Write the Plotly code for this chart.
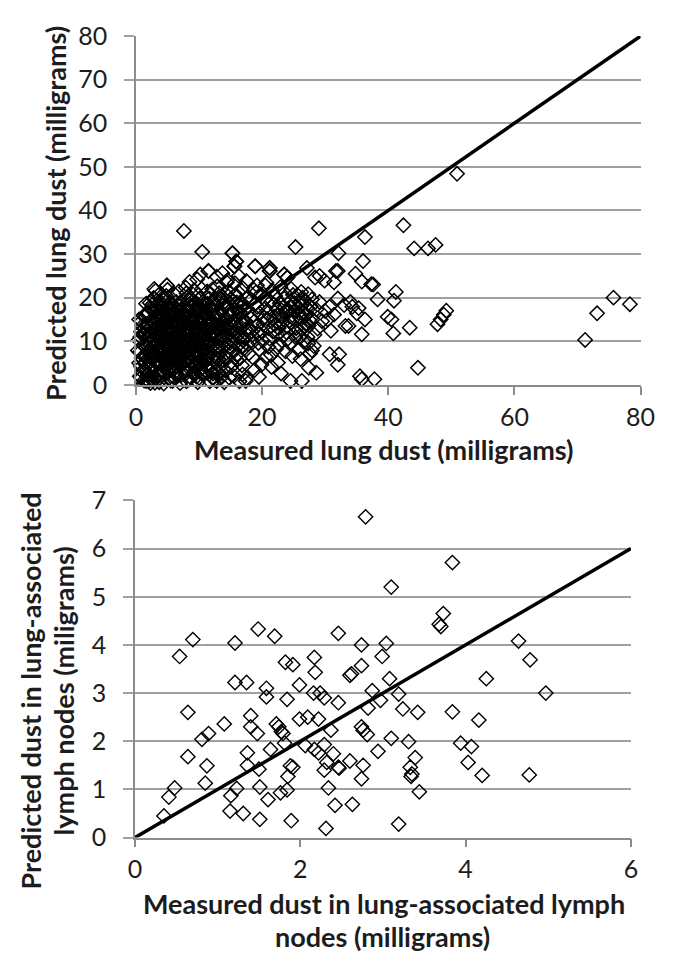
import plotly.graph_objects as go

# ---------------- Lung dust: measured vs predicted (mg) ----------------
# dense core of the cloud
lung_core_x = [1.0, 1.8, 2.5, 3.2, 3.0, 4.1, 4.8, 5.5, 5.9, 6.6, 7.3, 7.9, 8.6, 9.3, 9.8, 10.4, 11.1, 11.9, 12.5, 13.3,
               2.2, 3.7, 5.2, 6.9, 8.2, 10.0, 12.2, 1.4, 4.4, 8.0, 14.2, 15.5, 16.4, 17.5, 13.6,
               0.6, 1.5, 2.3, 2.9, 3.6, 4.3, 4.9, 5.6, 6.2, 6.8, 7.5, 8.1, 8.7, 9.4, 10.1, 10.7, 11.4, 12.0, 12.7, 13.4,
               14.1, 14.8, 1.2, 3.0, 5.1, 7.0, 9.0, 11.0, 13.0, 15.6, 16.5, 17.2, 15.1, 16.8,
               0.4, 1.1, 1.9, 2.6, 3.3, 4.0, 4.6, 5.3, 5.9, 6.5, 7.2, 7.8, 8.4, 9.1, 9.7, 10.3, 10.9, 11.6, 12.3, 12.9,
               13.6, 14.3, 15.0, 15.8, 16.6, 17.4, 2.0, 3.9, 6.0, 8.0, 10.0, 12.0, 1.3, 0.8,
               0.9, 1.7, 2.4, 3.1, 3.8, 4.5, 5.2, 5.8, 6.4, 7.1, 7.7, 8.3, 9.0, 9.6, 10.2, 10.8, 11.5, 12.1, 12.8, 13.5,
               14.2, 14.9, 15.7, 16.5, 17.3, 4.0, 6.7, 9.3, 11.8,
               1.6, 2.8, 3.5, 4.8, 5.5, 6.1, 7.4, 8.0, 8.8, 9.9, 10.6, 11.3, 12.5, 13.2, 13.9, 14.6, 15.4, 16.2, 17.0, 17.8,
               5.0, 7.9, 10.4, 12.9, 14.4, 16.9,
               2.9, 4.9, 9.7, 10.2, 11.5, 12.8, 13.7, 14.5, 15.6, 15.9, 15.3, 18.9, 19.2, 20.5, 21.2, 21.2, 23.5, 24.0,
               16.3, 17.5, 8.5,
               1.5, 2.7, 3.4, 4.2, 5.0, 5.7, 6.3, 7.0, 7.6, 8.3, 8.9, 9.5, 10.2, 10.8, 11.3, 12.1,
               2.1, 3.0, 3.7, 4.4, 5.0, 5.7, 6.4, 6.9, 7.6, 8.2, 8.8, 9.4, 10.1, 10.7, 11.3, 11.9, 12.6,
               2.4, 3.2, 4.0, 5.3, 6.0, 7.3, 8.6, 9.7, 10.9, 11.6, 9.2, 7.9, 6.6, 5.4, 4.2, 3.4, 2.3, 1.9, 1.0,
               0.6, 1.3, 2.0, 2.6,
               2.4, 3.6, 4.9, 6.1, 7.2, 8.4, 9.6, 10.9, 12.1,
               1.3, 2.0, 3.9, 5.1, 6.3, 7.6, 8.8, 10.1, 11.4, 12.7, 13.9, 15.1,
               0.9, 2.5, 3.1, 4.5, 5.4, 6.7, 7.8, 8.5, 9.9, 11.0, 12.4, 13.1, 14.5, 16.0,
               1.6, 2.2, 3.8, 4.6, 5.9, 6.4, 7.3, 8.7, 9.2, 10.5, 11.7, 12.6, 13.8, 14.9, 16.2, 17.0,
               0.7, 1.5, 2.8, 3.6, 4.9, 5.6, 6.8, 7.5, 8.6, 9.4, 10.6, 11.2, 12.5, 13.3, 14.6, 15.4, 16.3, 17.1,
               1.0, 2.3, 2.9, 4.1, 4.8, 6.2, 7.0, 8.3, 8.9, 10.4, 11.0, 12.2, 13.0, 14.0, 14.9, 15.9, 16.8,
               1.2, 2.0, 3.4, 4.2, 5.5, 6.6, 7.4, 8.0, 9.3, 10.5, 11.1, 12.4, 13.2, 14.7, 15.3, 16.1,
               2.2, 3.0, 4.4, 5.1, 6.4, 7.0, 8.4, 9.6, 10.1, 11.0, 12.2, 13.5, 14.3, 15.0, 16.0,
               3.6, 4.5, 6.8, 8.3, 9.2, 11.7, 12.1, 13.6, 15.8,
               3.3, 4.0, 4.7, 5.4, 6.1, 6.8, 7.5, 8.2, 8.9, 9.6, 10.3, 11.0, 11.7,
               3.3, 4.0, 4.7, 5.4, 6.1, 6.8, 7.5, 8.2, 8.9, 9.6, 10.3, 11.0, 11.7,
               3.3, 4.0, 4.7, 5.4, 6.1, 6.8, 7.5, 8.2, 8.9, 9.6, 10.3, 11.0, 11.7,
               3.3, 4.0, 4.7, 5.4, 6.1, 6.8, 7.5, 8.2, 8.9, 9.6, 10.3, 11.0, 11.7,
               3.3, 4.0, 4.7, 5.4, 6.1, 6.8, 7.5, 8.2, 8.9, 9.6, 10.3, 11.0, 11.7,
               3.3, 4.0, 4.7, 5.4, 6.1, 6.8, 7.5, 8.2, 8.9, 9.6, 10.3, 11.0, 11.7,
               1.9, 3.6, 5.1, 6.5, 8.0, 9.3, 10.7, 12.2,
               1.4, 2.6, 4.3, 5.8, 7.1, 8.6, 9.9, 11.4, 12.8,
               1.8, 3.0, 4.5, 6.0, 7.4, 8.8, 10.1, 11.6, 13.1,
               1.1, 2.5, 3.9, 5.3, 6.8, 8.1, 9.5, 10.9, 12.3, 13.8,
               1.7, 3.1, 4.6, 6.1, 7.6, 9.0, 10.4, 11.8, 13.4,
               2.6, 4.1, 5.6, 7.0, 8.5, 9.9, 11.3, 12.7,
               0.8, 1.6, 2.3, 3.5]
lung_core_y = [3.0, 2.2, 4.1, 1.5, 0.5, 2.8, 4.6, 1.0, 3.4, 2.1, 4.8, 3.1, 1.8, 4.2, 0.6, 2.6, 4.4, 3.3, 1.2, 4.0,
               5.3, 4.9, 5.8, 5.5, 5.9, 5.2, 5.7, 4.9, 0.3, 0.8, 3.2, 2.0, 0.8, 1.5, 1.8,
               7.5, 6.4, 8.2, 6.8, 7.9, 6.1, 8.8, 7.2, 6.0, 8.5, 7.0, 6.3, 8.9, 7.4, 6.6, 8.3, 7.1, 6.2, 8.6, 7.3,
               6.4, 8.7, 9.0, 9.3, 9.6, 9.2, 9.8, 9.4, 9.9, 7.8, 6.1, 8.4, 5.2, 4.5,
               10.3, 11.8, 10.6, 12.4, 10.9, 12.9, 11.3, 10.1, 12.2, 11.0, 13.1, 10.5, 12.0, 11.2, 13.4, 10.8, 12.6, 11.5, 10.2, 12.8,
               11.1, 12.9, 10.4, 12.1, 10.9, 12.7, 13.6, 14.0, 13.8, 14.2, 13.9, 14.1, 13.0, 12.2,
               14.6, 16.2, 14.8, 16.9, 15.3, 17.1, 14.5, 16.4, 15.0, 17.3, 14.7, 16.6, 15.2, 17.5, 14.4, 16.1, 15.6, 17.2, 14.9, 16.8,
               15.4, 17.0, 15.1, 16.7, 14.6, 18.0, 18.2, 18.4, 18.0,
               18.6, 19.9, 18.3, 20.4, 18.9, 20.8, 19.2, 21.0, 19.6, 20.6, 19.0, 21.4, 19.5, 21.0, 18.8, 20.3, 19.1, 21.3, 18.5, 20.2,
               21.8, 22.3, 22.0, 22.6, 23.5, 22.2,
               22.0, 22.8, 24.2, 25.3, 26.1, 24.8, 25.6, 24.0, 27.2, 28.3, 30.2, 27.2, 22.8, 22.8, 26.8, 26.1, 25.3, 24.6,
               25.0, 23.8, 23.6,
               5.0, 7.1, 5.6, 8.7, 6.9, 4.3, 9.4, 7.7, 5.2, 10.1, 6.8, 9.1, 4.9, 7.8, 5.9, 8.9,
               11.3, 13.2, 11.6, 14.3, 12.5, 15.7, 13.0, 11.6, 15.9, 13.4, 10.7, 14.8, 12.2, 15.3, 13.7, 11.4, 16.0,
               17.6, 15.5, 16.5, 17.7, 16.9, 16.0, 17.9, 16.3, 17.7, 19.8, 12.8, 12.1, 10.3, 9.0, 10.0, 8.4, 9.4, 7.5, 5.9,
               2.0, 1.0, 0.8, 2.6,
               1.4, 2.0, 1.1, 1.7, 2.3, 1.2, 1.9, 2.5, 1.6,
               3.6, 3.9, 3.2, 3.8, 3.1, 3.5, 4.0, 3.3, 3.7, 3.0, 3.6, 4.1,
               6.2, 5.9, 6.6, 5.4, 6.0, 6.8, 5.6, 6.3, 6.9, 5.5, 6.6, 5.9, 6.1, 5.7,
               8.6, 9.1, 8.2, 9.5, 8.0, 8.9, 9.6, 8.3, 9.0, 8.5, 9.3, 8.1, 8.8, 9.6, 9.1, 10.1,
               11.0, 11.6, 10.4, 11.8, 11.1, 12.0, 10.7, 11.9, 10.9, 11.7, 11.3, 10.5, 11.9, 10.6, 11.4, 12.2, 11.7, 10.8,
               13.5, 12.9, 14.2, 13.1, 14.4, 13.7, 12.9, 14.5, 13.3, 14.0, 13.2, 14.6, 13.5, 14.1, 13.0, 13.8, 14.4,
               15.8, 16.5, 16.0, 15.6, 16.8, 15.5, 16.6, 15.9, 16.9, 15.7, 16.4, 15.8, 16.3, 16.0, 16.9, 15.6,
               18.8, 17.9, 19.4, 18.2, 19.0, 18.1, 19.5, 18.7, 19.8, 18.4, 18.9, 19.7, 18.1, 19.6, 18.9,
               20.6, 19.8, 21.4, 20.3, 21.7, 20.8, 21.9, 20.2, 20.7,
               7.6, 7.0, 7.8, 7.3, 7.9, 7.1, 7.6, 7.9, 7.2, 7.8, 7.3, 7.9, 7.5,
               9.9, 10.4, 9.7, 10.6, 10.0, 9.6, 10.5, 9.8, 10.2, 10.6, 9.7, 10.3, 9.9,
               12.3, 12.8, 12.5, 13.0, 12.4, 12.9, 12.3, 12.7, 12.4, 12.8, 12.5, 12.9, 12.6,
               14.9, 15.2, 14.8, 15.4, 14.7, 15.3, 14.9, 15.2, 14.6, 15.0, 15.5, 14.8, 15.1,
               17.2, 17.6, 16.9, 17.3, 17.8, 17.0, 17.5, 17.1, 17.7, 17.0, 17.4, 16.9, 17.5,
               5.1, 4.7, 5.3, 4.9, 5.4, 4.6, 5.2, 4.8, 5.3, 4.6, 5.0, 5.4, 4.8,
               2.6, 2.4, 2.9, 2.5, 2.7, 2.3, 2.8, 2.6,
               6.4, 6.1, 6.5, 6.2, 6.6, 6.0, 6.3, 6.5, 6.1,
               8.9, 8.6, 9.0, 8.7, 9.1, 8.5, 8.8, 9.0, 8.6,
               11.4, 11.2, 11.6, 11.1, 11.5, 11.3, 11.7, 11.2, 11.5, 11.4,
               13.9, 14.1, 13.7, 14.0, 13.8, 14.2, 13.9, 14.0, 13.7,
               18.4, 18.7, 18.3, 18.8, 18.5, 18.2, 18.6, 18.4,
               1.6, 0.9, 0.4, 1.2]

# looser middle band of the cloud
lung_mid_x = [18.3, 18.8, 19.2, 19.6, 20.0, 20.4, 20.8, 21.2, 21.6, 22.0, 22.3, 22.7, 23.1, 23.5, 23.9, 24.2, 24.6, 24.9,
              25.3, 25.6, 26.0, 26.3, 26.7, 27.0, 27.4, 27.7, 28.0, 28.3, 18.5, 19.9, 21.4, 22.5, 23.7, 24.4, 25.8, 26.6,
              27.9, 20.7, 22.9, 24.6, 26.2, 27.3, 19.0, 18.1, 18.6, 21.8, 23.3, 25.1, 26.9, 24.0, 22.6, 20.2, 19.4, 21.0,
              17.7, 18.0, 25.4, 26.5, 27.6, 28.6, 29.1, 29.5, 30.4, 30.0, 28.8, 27.2, 23.0, 24.8, 25.9, 26.4,
              13.4, 13.9, 14.4, 14.8, 15.3, 15.9, 16.4, 16.8, 17.3, 17.7, 18.2, 18.7, 19.1, 19.6, 20.1, 20.5, 21.0, 21.4,
              21.9, 22.4, 22.8, 23.2, 23.7, 24.1, 24.5, 25.0, 25.4, 25.8, 26.2, 26.7, 27.1, 27.5, 27.9, 21.7, 23.9, 24.7,
              22.1, 20.3, 18.9, 17.5, 16.2, 15.0, 14.1, 13.6, 14.6, 15.7, 16.6, 19.8, 23.6, 25.6, 26.8, 24.3, 22.6, 19.4,
              17.9, 16.0, 14.7, 13.8, 15.8, 17.0, 18.4, 20.9, 23.4, 25.2, 26.0, 27.3, 28.2, 22.2, 20.6, 24.8, 26.1, 21.5,
              18.8, 19.5, 23.0, 13.1, 14.0, 11.7, 7.0, 5.8, 3.7]
lung_mid_y = [10.2, 14.6, 17.9, 8.1, 12.3, 19.6, 15.1, 10.6, 21.7, 13.8, 17.4, 9.3, 15.9, 19.8, 12.0, 16.8, 14.2, 20.6,
              10.9, 17.6, 15.4, 12.8, 19.2, 16.1, 13.6, 18.0, 15.0, 11.5, 6.3, 4.6, 6.9, 5.1, 7.7, 9.5, 8.0, 9.9,
              7.9, 23.4, 22.4, 22.0, 21.3, 20.8, 21.2, 19.3, 16.1, 18.4, 11.2, 18.8, 14.0, 17.4, 16.0, 14.0, 11.6, 8.7,
              9.3, 13.0, 13.0, 16.7, 16.9, 17.3, 19.0, 14.6, 15.0, 16.9, 12.9, 11.0, 14.6, 16.0, 18.9, 20.0,
              15.7, 9.7, 18.3, 11.9, 14.5, 20.1, 13.6, 8.6, 17.1, 11.4, 15.3, 21.8, 13.4, 16.4, 10.1, 17.6, 13.0, 19.0,
              15.6, 11.6, 18.7, 14.1, 16.9, 10.6, 19.2, 15.2, 12.2, 16.5, 18.1, 13.3, 17.7, 14.8, 19.6, 12.2, 13.4, 17.8,
              20.4, 15.4, 18.6, 19.7, 16.8, 16.0, 13.4, 19.4, 21.4, 23.3, 19.0, 20.8, 21.1, 20.6, 15.8, 14.7, 13.0, 9.6,
              7.2, 6.9, 7.8, 5.7, 10.8, 14.7, 12.2, 16.5, 17.9, 17.0, 11.2, 9.5, 8.9, 8.2, 6.4, 6.6, 5.9, 4.1,
              3.4, 1.8, 2.6, 2.9, 0.6, 0.8, 0.4, 0.9, 0.6]

# sparse points away from the cloud
lung_out_x = [7.6, 10.5, 15.3, 15.9, 15.6, 18.9, 21.2, 21.2, 25.3, 11.5, 23.5, 24.0, 29.0, 42.4, 36.3, 44.1, 46.3, 47.5,
              32.1, 36.0, 32.0, 27.1, 28.4, 29.9, 31.4, 34.8, 35.8, 37.6, 38.3, 41.2, 40.9, 39.9, 40.5, 40.8, 43.4, 44.7,
              47.8, 48.3, 48.8, 49.2, 50.9, 71.2, 73.1, 75.7, 78.3, 30.7, 32.0, 31.4, 34.3, 34.0, 35.3, 36.3, 35.8, 33.2,
              30.9, 33.7, 35.0, 27.6, 30.7, 32.2, 32.0, 27.4, 28.6, 26.3, 35.5, 35.8, 37.8, 24.5, 16.9, 17.4, 14.8, 12.8,
              10.0, 9.2, 4.9, 3.1, 2.8, 1.5, 0.5, 0.3, 0.8, 0.5, 37.3, 33.0, 31.7, 29.1]
lung_out_y = [35.3, 30.5, 30.2, 28.3, 27.2, 27.2, 26.8, 26.1, 31.6, 26.1, 25.3, 24.6, 35.9, 36.6, 33.9, 31.3, 31.3, 32.1,
              30.2, 28.4, 26.1, 26.8, 24.6, 23.9, 23.5, 25.5, 23.7, 23.0, 19.6, 21.3, 19.3, 15.6, 15.0, 11.8, 13.1, 3.9,
              13.9, 15.0, 16.1, 17.0, 48.4, 10.3, 16.4, 20.0, 18.5, 17.9, 19.8, 16.1, 17.9, 19.0, 17.6, 15.0, 11.6, 13.5,
              12.4, 13.5, 16.4, 7.2, 7.0, 7.0, 4.6, 3.9, 2.8, 0.9, 2.0, 1.3, 1.3, 0.9, 2.4, 0.9, 1.6, 0.9,
              1.6, 2.8, 22.8, 21.6, 19.8, 15.7, 15.0, 7.9, 4.2, 5.0, 23.1, 18.3, 26.1, 25.0]

lung_measured = lung_core_x + lung_mid_x + lung_out_x
lung_predicted = lung_core_y + lung_mid_y + lung_out_y

# ---------------- Lymph node dust: measured vs predicted (mg) ----------------
lymph_measured = [2.79, 3.84, 3.10, 3.73, 3.68, 3.70, 1.49, 2.46, 1.69, 0.70, 1.21, 2.74, 3.04, 4.64, 0.54, 2.17,
                  2.99, 4.78, 1.82, 1.91, 2.74, 2.18, 2.60, 2.62, 1.21, 1.35, 3.08, 4.25, 1.99, 1.59, 1.59, 2.87,
                  2.16, 2.24, 2.29, 3.19, 4.97, 1.84, 2.97, 2.46, 2.82, 3.24, 0.64, 3.42, 3.84, 1.40, 1.99, 2.09,
                  2.22, 4.16, 1.08, 1.71, 1.74, 1.40, 2.74, 2.76, 1.77, 1.79, 2.37, 1.48, 0.89, 2.81, 0.81, 3.10,
                  1.81, 3.31, 3.94, 2.06, 2.29, 4.07, 2.17, 2.22, 2.94, 1.64, 1.36, 2.40, 0.64, 3.39, 2.60, 4.03,
                  2.32, 1.36, 0.87, 2.76, 1.88, 1.91, 2.46, 2.47, 1.50, 3.33, 2.29, 3.35, 3.34, 4.20, 4.77, 1.85,
                  2.74, 0.85, 0.48, 1.23, 1.51, 2.34, 1.84, 1.16, 0.41, 3.44, 1.76, 1.61, 1.15, 2.42, 2.63, 1.31,
                  0.35, 1.51, 1.89, 3.19, 2.31]
lymph_predicted = [6.66, 5.71, 5.20, 4.65, 4.43, 4.38, 4.33, 4.24, 4.18, 4.11, 4.04, 4.00, 4.03, 4.08, 3.76, 3.74,
                   3.76, 3.69, 3.64, 3.59, 3.57, 3.43, 3.37, 3.40, 3.22, 3.22, 3.30, 3.30, 3.17, 3.10, 2.92, 3.05,
                   3.00, 3.00, 2.90, 2.98, 3.00, 2.87, 2.85, 2.80, 2.69, 2.67, 2.60, 2.60, 2.61, 2.53, 2.46, 2.50,
                   2.46, 2.44, 2.36, 2.36, 2.30, 2.30, 2.30, 2.23, 2.20, 2.16, 2.23, 2.16, 2.16, 2.14, 2.04, 2.06,
                   1.96, 1.99, 1.96, 1.91, 1.93, 1.89, 1.83, 1.76, 1.79, 1.83, 1.76, 1.74, 1.68, 1.66, 1.59, 1.56,
                   1.56, 1.50, 1.49, 1.50, 1.49, 1.46, 1.46, 1.44, 1.42, 1.46, 1.40, 1.32, 1.27, 1.29, 1.30, 1.27,
                   1.22, 1.13, 1.03, 1.02, 1.05, 1.03, 0.99, 0.87, 0.84, 0.95, 0.93, 0.79, 0.55, 0.67, 0.69, 0.50,
                   0.45, 0.38, 0.35, 0.28, 0.19]

# 1:1 reference lines
lung_identity = [0, 80]
lymph_identity = [0, 6]

lung_xticks = [0, 20, 40, 60, 80]
lung_yticks = [0, 10, 20, 30, 40, 50, 60, 70, 80]
lymph_xticks = [0, 2, 4, 6]
lymph_yticks = [0, 1, 2, 3, 4, 5, 6, 7]

W, H = 674, 963
FONT = "Lato"
GRID = "#a0a0a0"
AXIS = "#8c8c8c"
TEXT = "#1c1c1c"

lung_marker = dict(symbol="diamond-open", size=11, color="black", line=dict(width=1.5, color="black"))
lymph_marker = dict(symbol="diamond-open", size=11, color="black", line=dict(width=1.4, color="black"))

fig = go.Figure()
fig.add_trace(go.Scatter(x=lung_measured, y=lung_predicted, mode="markers", marker=lung_marker,
                         xaxis="x", yaxis="y", cliponaxis=False, showlegend=False))
fig.add_trace(go.Scatter(x=lung_identity, y=lung_identity, mode="lines",
                         line=dict(color="black", width=3.5), xaxis="x", yaxis="y", showlegend=False))
fig.add_trace(go.Scatter(x=lymph_measured, y=lymph_predicted, mode="markers", marker=lymph_marker,
                         xaxis="x2", yaxis="y2", cliponaxis=False, showlegend=False))
fig.add_trace(go.Scatter(x=lymph_identity, y=lymph_identity, mode="lines",
                         line=dict(color="black", width=3.5), xaxis="x2", yaxis="y2", showlegend=False))


def px_x(p):
    return p / W


def px_y(p):
    return 1 - p / H


tickfont = dict(family=FONT, size=25, color=TEXT)


def xaxis_cfg(domain, rng, ticks, anchor):
    return dict(domain=domain, range=rng, tickvals=ticks, anchor=anchor,
                showline=True, linecolor=AXIS, linewidth=1.5, showgrid=False, zeroline=False,
                ticks="outside", ticklen=8, tickwidth=1.5, tickcolor=AXIS,
                tickfont=tickfont, ticklabelstandoff=1, fixedrange=True)


def yaxis_cfg(domain, rng, ticks, anchor):
    return dict(domain=domain, range=rng, tickvals=ticks, anchor=anchor,
                showline=True, linecolor=AXIS, linewidth=1.5, showgrid=True, gridcolor=GRID,
                gridwidth=1.5, zeroline=False, ticks="outside", ticklen=10, tickwidth=1.5,
                tickcolor=GRID, tickfont=tickfont, ticklabelstandoff=12, fixedrange=True)


title_font = dict(family=FONT, size=27, color=TEXT, weight="bold")

annotations = [
    dict(text="Measured lung dust (milligrams)", x=px_x(390), y=px_y(447)),
    dict(text="Predicted lung dust (milligrams)", x=px_x(50), y=px_y(204), textangle=-90),
    dict(text="Measured dust in lung-associated lymph", x=px_x(390), y=px_y(916)),
    dict(text="nodes (milligrams)", x=px_x(388), y=px_y(950)),
    dict(text="Predicted dust in lung-associated", x=px_x(24), y=px_y(697), textangle=-90),
    dict(text="lymph nodes (miligrams)", x=px_x(58), y=px_y(697), textangle=-90),
]
for a in annotations:
    a.update(xref="paper", yref="paper", showarrow=False, font=title_font,
             xanchor="center", yanchor="middle", borderpad=0)

fig.update_layout(
    width=W, height=H,
    margin=dict(l=0, r=0, t=0, b=0),
    paper_bgcolor="white", plot_bgcolor="white",
    xaxis=xaxis_cfg([px_x(133.3), px_x(655)], [0, 80], lung_xticks, "y"),
    yaxis=yaxis_cfg([px_y(380.7), px_y(20.7)], [0, 80], lung_yticks, "x"),
    xaxis2=xaxis_cfg([px_x(132.3), px_x(645)], [0, 6], lymph_xticks, "y2"),
    yaxis2=yaxis_cfg([px_y(848), px_y(500)], [0, 7], lymph_yticks, "x2"),
    annotations=annotations,
)

fig.write_html("out.html")
